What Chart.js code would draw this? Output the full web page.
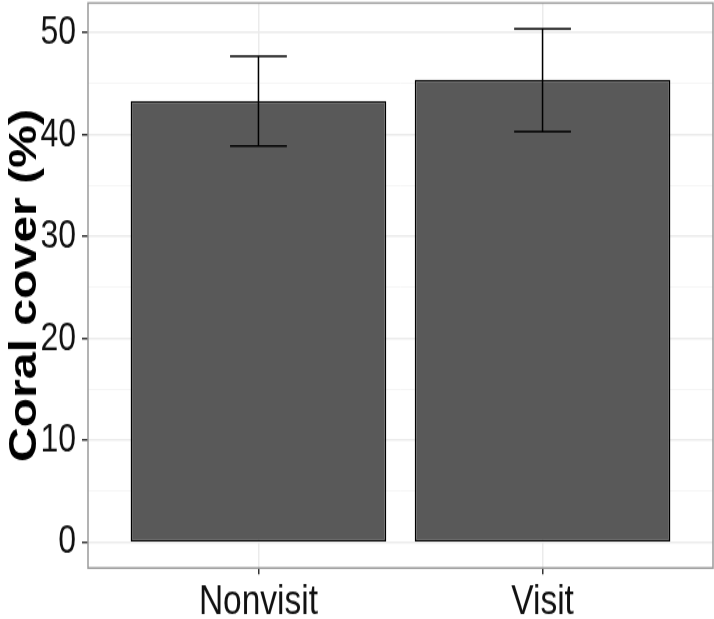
<!DOCTYPE html>
<html>
<head>
<meta charset="utf-8">
<script src="https://cdn.jsdelivr.net/npm/chart.js@4/dist/chart.umd.min.js"></script>
<style>
	html, body { margin: 0; padding: 0; background: #fff; }
	body { width: 714px; height: 619px; }
	/* the reference is drawn at 714x495 and stretched to 619 high */
	#wrap { width: 714px; height: 495px; transform: scaleY(1.2505); transform-origin: 0 0; }
</style>
</head>
<body>
<div id="wrap"><canvas id="chart" width="714" height="495"></canvas></div>
<script>
/* data */
const categories = ['Nonvisit', 'Visit'];
const coverMean = [43.3, 45.4];
const coverLower = [38.9, 40.3];
const coverUpper = [47.7, 50.4];
const yTicks = [0, 10, 20, 30, 40, 50];

/* ggplot style range: 5% expansion of 0..max */
const yTop = Math.max(...coverUpper);
const yMin = -yTop * 0.05;
const yMax = yTop * 1.05;

const sans = '"Liberation Sans", Arial, sans-serif';

const isMajor = (v) => yTicks.includes(v);

const errorBars = {
	id: 'errorBars',
	afterDatasetsDraw(chart) {
		const { ctx, scales: { x, y } } = chart;
		ctx.save();
		ctx.strokeStyle = '#000';
		ctx.lineWidth = 1.5;
		categories.forEach((c, i) => {
			const cx = x.getPixelForValue(i + 1);
			const half = x.getPixelForValue(i + 1.1) - cx;
			const lo = y.getPixelForValue(coverLower[i]);
			const hi = y.getPixelForValue(coverUpper[i]);
			ctx.beginPath();
			ctx.moveTo(cx, lo); ctx.lineTo(cx, hi);
			ctx.moveTo(cx - half, lo); ctx.lineTo(cx + half, lo);
			ctx.moveTo(cx - half, hi); ctx.lineTo(cx + half, hi);
			ctx.stroke();
		});
		ctx.restore();
	},
	afterDraw(chart) {
		const { ctx, chartArea: a } = chart;
		ctx.save();
		ctx.strokeStyle = '#9a9a9a';
		ctx.lineWidth = 1.5;
		ctx.strokeRect(a.left, a.top, a.right - a.left, a.bottom - a.top);
		ctx.restore();
	}
};

new Chart(document.getElementById('chart'), {
	type: 'bar',
	data: {
		datasets: [{
			data: categories.map((c, i) => ({ x: i + 1, y: coverMean[i] })),
			backgroundColor: '#595959',
			borderColor: '#000',
			borderWidth: 1.5,
			borderSkipped: false,
			barPercentage: 0.9,
			categoryPercentage: 1.0,
		}]
	},
	options: {
		responsive: false,
		animation: false,
		layout: { padding: { top: 2.4, right: 1, left: 0, bottom: 0 } },
		plugins: {
			legend: { display: false },
			tooltip: { enabled: false },
		},
		scales: {
			x: {
				type: 'linear',
				min: 0.4,
				max: 2.6,
				offset: false,
				afterBuildTicks: (s) => { s.ticks = categories.map((c, i) => ({ value: i + 1 })); },
				afterFit: (s) => {
					s.height = 40.8;
					s.paddingLeft = 0;
					s.paddingRight = 0;
				},
				border: { display: false },
				grid: { offset: false, color: '#ebebeb', lineWidth: 1.5, tickLength: 5, tickColor: '#333' },
				ticks: {
					callback: (v) => categories[v - 1] ?? '',
					font: { family: sans, size: 33.5 },
					color: '#111',
					padding: 2,
					maxRotation: 0,
				}
			},
			y: {
				min: yMin,
				max: yMax,
				afterFit: (s) => {
					s.width = 88;
					s.paddingTop = 0;
					s.paddingBottom = 0;
				},
				border: { display: false },
				grid: {
					color: (c) => isMajor(c.tick?.value) ? '#ebebeb' : '#f5f5f5',
					lineWidth: (c) => isMajor(c.tick?.value) ? 1.5 : 1,
					tickLength: 6,
					tickColor: (c) => isMajor(c.tick?.value) ? '#333' : 'rgba(0,0,0,0)',
				},
				ticks: {
					stepSize: 5,
					includeBounds: false,
					callback: (v) => isMajor(v) ? v : '',
					font: { family: sans, size: 32 },
					color: '#111',
					padding: 6,
				},
				title: {
					display: true,
					text: 'Coral cover (%)',
					font: { family: sans, size: 38.5, weight: 'bold' },
					color: '#000',
					padding: { top: 2, bottom: 0 },
				}
			}
		}
	},
	plugins: [errorBars]
});
</script>
</body>
</html>
